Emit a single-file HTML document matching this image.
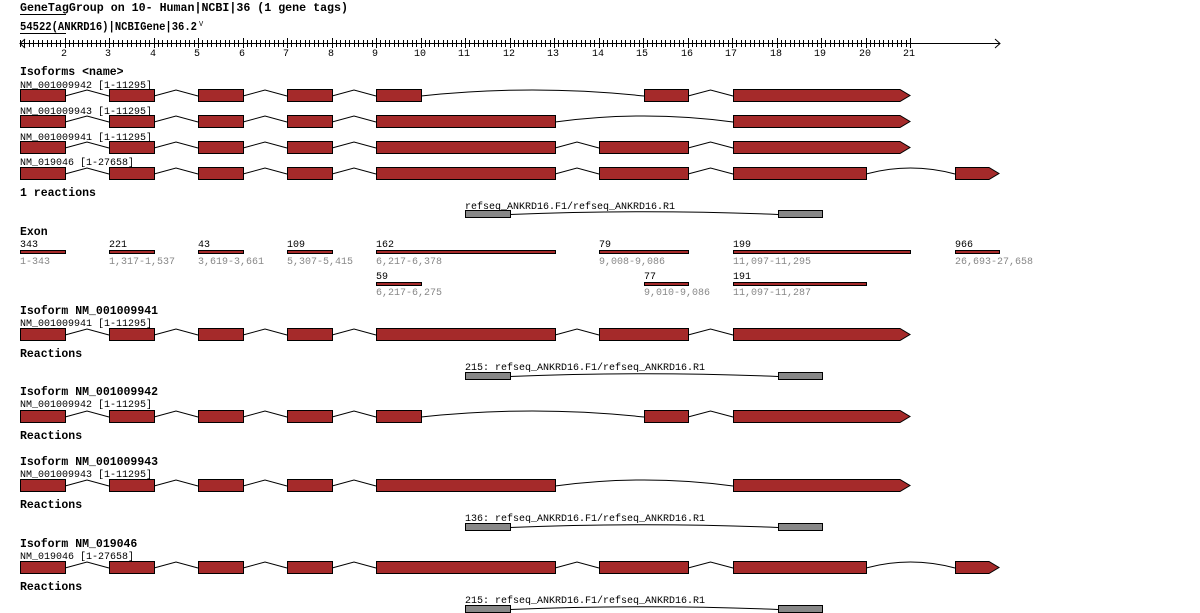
<!DOCTYPE html>
<html><head><meta charset="utf-8"><style>
html,body{margin:0;padding:0;background:#fff;width:1200px;height:613px;overflow:hidden}
svg{display:block}
text{font-family:"Liberation Mono",monospace;font-size:10px;fill:#000}
.b{font-weight:bold;font-size:11.5px}
.g{fill:#888}
</style></head><body>
<svg id="s" width="1200" height="613" xmlns="http://www.w3.org/2000/svg">
<text class="b" x="20" y="11" textLength="328" lengthAdjust="spacingAndGlyphs">GeneTagGroup on 10- Human|NCBI|36 (1 gene tags)</text>
<line x1="20" y1="14.5" x2="66" y2="14.5" stroke="#000"/>
<text class="b" x="20" y="30" textLength="177" lengthAdjust="spacingAndGlyphs">54522(ANKRD16)|NCBIGene|36.2</text><text x="199" y="26" style="font-size:7px">V</text>
<line x1="20" y1="33.5" x2="66" y2="33.5" stroke="#000"/>
<g id="ax"></g>
<text x="61" y="56">2</text><text x="105" y="56">3</text><text x="150" y="56">4</text><text x="194" y="56">5</text><text x="239" y="56">6</text><text x="283" y="56">7</text><text x="328" y="56">8</text><text x="372" y="56">9</text><text x="414" y="56">10</text><text x="458" y="56">11</text><text x="503" y="56">12</text><text x="547" y="56">13</text><text x="592" y="56">14</text><text x="636" y="56">15</text><text x="681" y="56">16</text><text x="725" y="56">17</text><text x="770" y="56">18</text><text x="814" y="56">19</text><text x="859" y="56">20</text><text x="903" y="56">21</text>
<text class="b" x="20" y="75">Isoforms &lt;name&gt;</text>
<text x="20" y="88">NM_001009942 [1-11295]</text>
<text x="20" y="114">NM_001009943 [1-11295]</text>
<text x="20" y="140">NM_001009941 [1-11295]</text>
<text x="20" y="165">NM_019046 [1-27658]</text>
<text class="b" x="20" y="196">1 reactions</text>
<text x="465" y="209">refseq_ANKRD16.F1/refseq_ANKRD16.R1</text>
<text class="b" x="20" y="235">Exon</text>
<text x="20" y="247">343</text><text x="109" y="247">221</text><text x="198" y="247">43</text><text x="287" y="247">109</text><text x="376" y="247">162</text><text x="599" y="247">79</text><text x="733" y="247">199</text><text x="955" y="247">966</text>
<text class="g" x="20" y="264">1-343</text><text class="g" x="109" y="264">1,317-1,537</text><text class="g" x="198" y="264">3,619-3,661</text><text class="g" x="287" y="264">5,307-5,415</text><text class="g" x="376" y="264">6,217-6,378</text><text class="g" x="599" y="264">9,008-9,086</text><text class="g" x="733" y="264">11,097-11,295</text><text class="g" x="955" y="264">26,693-27,658</text>
<text x="376" y="279">59</text><text x="644" y="279">77</text><text x="733" y="279">191</text>
<text class="g" x="376" y="295">6,217-6,275</text><text class="g" x="644" y="295">9,010-9,086</text><text class="g" x="733" y="295">11,097-11,287</text>
<text class="b" x="20" y="314">Isoform NM_001009941</text>
<text x="20" y="326">NM_001009941 [1-11295]</text>
<text class="b" x="20" y="357">Reactions</text>
<text x="465" y="370">215: refseq_ANKRD16.F1/refseq_ANKRD16.R1</text>
<text class="b" x="20" y="395">Isoform NM_001009942</text>
<text x="20" y="407">NM_001009942 [1-11295]</text>
<text class="b" x="20" y="439">Reactions</text>
<text class="b" x="20" y="465">Isoform NM_001009943</text>
<text x="20" y="477">NM_001009943 [1-11295]</text>
<text class="b" x="20" y="508">Reactions</text>
<text x="465" y="521">136: refseq_ANKRD16.F1/refseq_ANKRD16.R1</text>
<text class="b" x="20" y="547">Isoform NM_019046</text>
<text x="20" y="559">NM_019046 [1-27658]</text>
<text class="b" x="20" y="590">Reactions</text>
<text x="465" y="603">215: refseq_ANKRD16.F1/refseq_ANKRD16.R1</text>
<g id="sh"></g>
</svg>
<script>
var NS="http://www.w3.org/2000/svg",sh=document.getElementById("sh"),ax=document.getElementById("ax");
function el(p,t,a){var e=document.createElementNS(NS,t);for(var k in a)e.setAttribute(k,a[k]);p.appendChild(e);return e;}
el(ax,"line",{x1:20,y1:43.5,x2:1000,y2:43.5,stroke:"#000"});
el(ax,"polyline",{points:"25,39 20,43.5 25,48",fill:"none",stroke:"#000"});
el(ax,"polyline",{points:"995,39 1000,43.5 995,48",fill:"none",stroke:"#000"});
for(var i=0;i<=200;i++){var x=Math.round(20+i*4.45)+0.5;if(x>911)break;var maj=(i%10==0&&i>0);el(ax,"line",{x1:x,y1:maj?38:40,x2:x,y2:maj?48:47,stroke:"#000"});}
var A=[[20,65],[109,154],[198,243],[287,332]];
var iso={a:A.concat([[376,421],[644,688],[733,910,1]]),b:A.concat([[376,555],[733,910,1]]),c:A.concat([[376,555],[599,688],[733,910,1]]),d:A.concat([[376,555],[599,688],[733,866],[955,999,1]])};
function row(ex,y){for(var i=0;i<ex.length-1;i++){var x1=ex[i][1],x2=ex[i+1][0],m=(x1+x2)/2;
if(x2-x1>60)el(sh,"path",{d:"M"+x1+","+(y+7)+" Q"+m+","+(y-5)+" "+x2+","+(y+7),fill:"none",stroke:"#000"});
else el(sh,"polyline",{points:x1+","+(y+7)+" "+m+","+(y+1)+" "+x2+","+(y+7),fill:"none",stroke:"#000"});}
ex.forEach(function(e){if(e[2])el(sh,"polygon",{points:e[0]+".5,"+(y+.5)+" "+(e[1]-10)+","+(y+.5)+" "+e[1]+","+(y+6.5)+" "+(e[1]-10)+","+(y+12.5)+" "+e[0]+".5,"+(y+12.5),fill:"#a52a2a",stroke:"#000"});else el(sh,"rect",{x:e[0]+.5,y:y+.5,width:e[1]-e[0],height:12,fill:"#a52a2a",stroke:"#000"});});}
row(iso.a,89);row(iso.b,115);row(iso.c,141);row(iso.d,167);
row(iso.c,328);row(iso.a,410);row(iso.b,479);row(iso.d,561);
function rx(y){el(sh,"path",{d:"M510,"+(y+4.5)+" Q644,"+(y-1)+" 778,"+(y+4.5),fill:"none",stroke:"#000"});
[[465,510],[778,822]].forEach(function(e){el(sh,"rect",{x:e[0]+.5,y:y+.5,width:e[1]-e[0],height:7,fill:"#888",stroke:"#000"});});}
rx(210);rx(372);rx(523);rx(605);
function ex(a,y){a.forEach(function(e){el(sh,"rect",{x:e[0]+.5,y:y+.5,width:e[1]-e[0],height:3,fill:"#a52a2a",stroke:"#000"});});}
ex([[20,65],[109,154],[198,243],[287,332],[376,555],[599,688],[733,910],[955,999]],250);
ex([[376,421],[644,688],[733,866]],282);
</script>
</body></html>
